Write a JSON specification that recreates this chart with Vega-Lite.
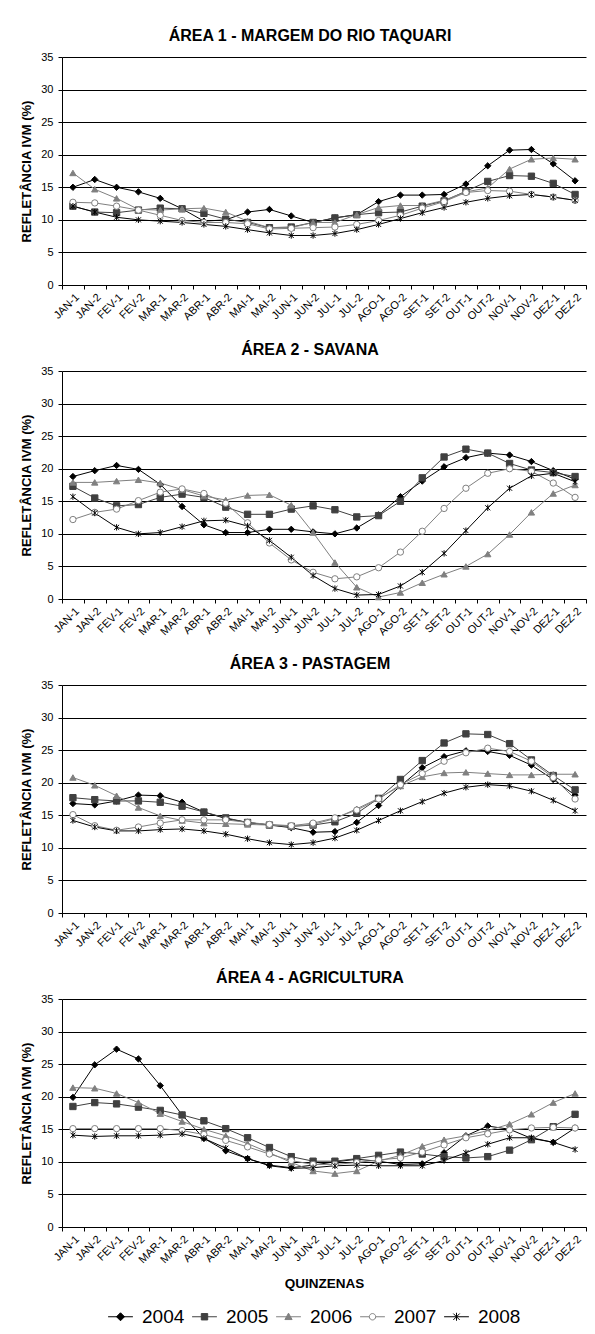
{
"$schema": "https://vega.github.io/schema/vega-lite/v6.json",
"background": "white",
"padding": {"left": 20, "top": 28, "right": 5, "bottom": 5},
"spacing": 19,
"datasets": {
"a1": [
{"q":"JAN-1","y":"2004","v":15.0},{"q":"JAN-2","y":"2004","v":16.2},{"q":"FEV-1","y":"2004","v":15.0},{"q":"FEV-2","y":"2004","v":14.3},{"q":"MAR-1","y":"2004","v":13.3},{"q":"MAR-2","y":"2004","v":11.7},{"q":"ABR-1","y":"2004","v":9.8},{"q":"ABR-2","y":"2004","v":10.0},{"q":"MAI-1","y":"2004","v":11.2},{"q":"MAI-2","y":"2004","v":11.6},{"q":"JUN-1","y":"2004","v":10.6},{"q":"JUN-2","y":"2004","v":9.6},{"q":"JUL-1","y":"2004","v":10.3},{"q":"JUL-2","y":"2004","v":10.8},{"q":"AGO-1","y":"2004","v":12.8},{"q":"AGO-2","y":"2004","v":13.8},{"q":"SET-1","y":"2004","v":13.8},{"q":"SET-2","y":"2004","v":13.9},{"q":"OUT-1","y":"2004","v":15.5},{"q":"OUT-2","y":"2004","v":18.3},{"q":"NOV-1","y":"2004","v":20.7},{"q":"NOV-2","y":"2004","v":20.8},{"q":"DEZ-1","y":"2004","v":18.6},{"q":"DEZ-2","y":"2004","v":16.0},
{"q":"JAN-1","y":"2005","v":12.1},{"q":"JAN-2","y":"2005","v":11.2},{"q":"FEV-1","y":"2005","v":11.1},{"q":"FEV-2","y":"2005","v":11.5},{"q":"MAR-1","y":"2005","v":11.8},{"q":"MAR-2","y":"2005","v":11.7},{"q":"ABR-1","y":"2005","v":11.0},{"q":"ABR-2","y":"2005","v":10.1},{"q":"MAI-1","y":"2005","v":9.6},{"q":"MAI-2","y":"2005","v":8.8},{"q":"JUN-1","y":"2005","v":8.9},{"q":"JUN-2","y":"2005","v":9.6},{"q":"JUL-1","y":"2005","v":10.3},{"q":"JUL-2","y":"2005","v":10.8},{"q":"AGO-1","y":"2005","v":11.1},{"q":"AGO-2","y":"2005","v":11.2},{"q":"SET-1","y":"2005","v":12.1},{"q":"SET-2","y":"2005","v":12.9},{"q":"OUT-1","y":"2005","v":14.4},{"q":"OUT-2","y":"2005","v":15.9},{"q":"NOV-1","y":"2005","v":16.8},{"q":"NOV-2","y":"2005","v":16.7},{"q":"DEZ-1","y":"2005","v":15.6},{"q":"DEZ-2","y":"2005","v":13.9},
{"q":"JAN-1","y":"2006","v":17.2},{"q":"JAN-2","y":"2006","v":14.7},{"q":"FEV-1","y":"2006","v":13.3},{"q":"FEV-2","y":"2006","v":11.6},{"q":"MAR-1","y":"2006","v":11.5},{"q":"MAR-2","y":"2006","v":11.7},{"q":"ABR-1","y":"2006","v":11.8},{"q":"ABR-2","y":"2006","v":11.2},{"q":"MAI-1","y":"2006","v":9.8},{"q":"MAI-2","y":"2006","v":8.8},{"q":"JUN-1","y":"2006","v":8.8},{"q":"JUN-2","y":"2006","v":9.6},{"q":"JUL-1","y":"2006","v":9.6},{"q":"JUL-2","y":"2006","v":10.8},{"q":"AGO-1","y":"2006","v":11.9},{"q":"AGO-2","y":"2006","v":12.2},{"q":"SET-1","y":"2006","v":12.2},{"q":"SET-2","y":"2006","v":13.0},{"q":"OUT-1","y":"2006","v":14.3},{"q":"OUT-2","y":"2006","v":14.9},{"q":"NOV-1","y":"2006","v":17.8},{"q":"NOV-2","y":"2006","v":19.3},{"q":"DEZ-1","y":"2006","v":19.5},{"q":"DEZ-2","y":"2006","v":19.3},
{"q":"JAN-1","y":"2007","v":12.7},{"q":"JAN-2","y":"2007","v":12.6},{"q":"FEV-1","y":"2007","v":12.1},{"q":"FEV-2","y":"2007","v":11.5},{"q":"MAR-1","y":"2007","v":10.7},{"q":"MAR-2","y":"2007","v":9.9},{"q":"ABR-1","y":"2007","v":9.6},{"q":"ABR-2","y":"2007","v":9.6},{"q":"MAI-1","y":"2007","v":9.4},{"q":"MAI-2","y":"2007","v":8.6},{"q":"JUN-1","y":"2007","v":8.7},{"q":"JUN-2","y":"2007","v":8.8},{"q":"JUL-1","y":"2007","v":8.9},{"q":"JUL-2","y":"2007","v":9.3},{"q":"AGO-1","y":"2007","v":9.9},{"q":"AGO-2","y":"2007","v":10.7},{"q":"SET-1","y":"2007","v":11.8},{"q":"SET-2","y":"2007","v":12.8},{"q":"OUT-1","y":"2007","v":14.2},{"q":"OUT-2","y":"2007","v":14.5},{"q":"NOV-1","y":"2007","v":14.4},{"q":"NOV-2","y":"2007","v":13.9},{"q":"DEZ-1","y":"2007","v":13.5},{"q":"DEZ-2","y":"2007","v":13.0},
{"q":"JAN-1","y":"2008","v":12.1},{"q":"JAN-2","y":"2008","v":11.2},{"q":"FEV-1","y":"2008","v":10.4},{"q":"FEV-2","y":"2008","v":10.0},{"q":"MAR-1","y":"2008","v":9.8},{"q":"MAR-2","y":"2008","v":9.6},{"q":"ABR-1","y":"2008","v":9.3},{"q":"ABR-2","y":"2008","v":9.0},{"q":"MAI-1","y":"2008","v":8.5},{"q":"MAI-2","y":"2008","v":8.0},{"q":"JUN-1","y":"2008","v":7.6},{"q":"JUN-2","y":"2008","v":7.6},{"q":"JUL-1","y":"2008","v":7.9},{"q":"JUL-2","y":"2008","v":8.5},{"q":"AGO-1","y":"2008","v":9.3},{"q":"AGO-2","y":"2008","v":10.2},{"q":"SET-1","y":"2008","v":11.1},{"q":"SET-2","y":"2008","v":11.9},{"q":"OUT-1","y":"2008","v":12.7},{"q":"OUT-2","y":"2008","v":13.3},{"q":"NOV-1","y":"2008","v":13.7},{"q":"NOV-2","y":"2008","v":13.9},{"q":"DEZ-1","y":"2008","v":13.5},{"q":"DEZ-2","y":"2008","v":13.0}
],
"a2": [
{"q":"JAN-1","y":"2004","v":18.8},{"q":"JAN-2","y":"2004","v":19.7},{"q":"FEV-1","y":"2004","v":20.5},{"q":"FEV-2","y":"2004","v":19.9},{"q":"MAR-1","y":"2004","v":17.6},{"q":"MAR-2","y":"2004","v":14.2},{"q":"ABR-1","y":"2004","v":11.4},{"q":"ABR-2","y":"2004","v":10.2},{"q":"MAI-1","y":"2004","v":10.2},{"q":"MAI-2","y":"2004","v":10.7},{"q":"JUN-1","y":"2004","v":10.7},{"q":"JUN-2","y":"2004","v":10.3},{"q":"JUL-1","y":"2004","v":10.0},{"q":"JUL-2","y":"2004","v":10.9},{"q":"AGO-1","y":"2004","v":12.9},{"q":"AGO-2","y":"2004","v":15.7},{"q":"SET-1","y":"2004","v":18.1},{"q":"SET-2","y":"2004","v":20.3},{"q":"OUT-1","y":"2004","v":21.7},{"q":"OUT-2","y":"2004","v":22.4},{"q":"NOV-1","y":"2004","v":22.1},{"q":"NOV-2","y":"2004","v":21.1},{"q":"DEZ-1","y":"2004","v":19.7},{"q":"DEZ-2","y":"2004","v":18.4},
{"q":"JAN-1","y":"2005","v":17.3},{"q":"JAN-2","y":"2005","v":15.5},{"q":"FEV-1","y":"2005","v":14.3},{"q":"FEV-2","y":"2005","v":14.5},{"q":"MAR-1","y":"2005","v":15.6},{"q":"MAR-2","y":"2005","v":16.1},{"q":"ABR-1","y":"2005","v":15.6},{"q":"ABR-2","y":"2005","v":14.1},{"q":"MAI-1","y":"2005","v":13.0},{"q":"MAI-2","y":"2005","v":13.0},{"q":"JUN-1","y":"2005","v":13.8},{"q":"JUN-2","y":"2005","v":14.3},{"q":"JUL-1","y":"2005","v":13.7},{"q":"JUL-2","y":"2005","v":12.6},{"q":"AGO-1","y":"2005","v":12.8},{"q":"AGO-2","y":"2005","v":15.0},{"q":"SET-1","y":"2005","v":18.6},{"q":"SET-2","y":"2005","v":21.8},{"q":"OUT-1","y":"2005","v":23.0},{"q":"OUT-2","y":"2005","v":22.4},{"q":"NOV-1","y":"2005","v":20.8},{"q":"NOV-2","y":"2005","v":19.8},{"q":"DEZ-1","y":"2005","v":19.4},{"q":"DEZ-2","y":"2005","v":18.8},
{"q":"JAN-1","y":"2006","v":17.9},{"q":"JAN-2","y":"2006","v":17.9},{"q":"FEV-1","y":"2006","v":18.1},{"q":"FEV-2","y":"2006","v":18.3},{"q":"MAR-1","y":"2006","v":17.8},{"q":"MAR-2","y":"2006","v":16.8},{"q":"ABR-1","y":"2006","v":15.8},{"q":"ABR-2","y":"2006","v":15.2},{"q":"MAI-1","y":"2006","v":15.9},{"q":"MAI-2","y":"2006","v":16.0},{"q":"JUN-1","y":"2006","v":14.4},{"q":"JUN-2","y":"2006","v":10.2},{"q":"JUL-1","y":"2006","v":5.6},{"q":"JUL-2","y":"2006","v":1.8},{"q":"AGO-1","y":"2006","v":0.3},{"q":"AGO-2","y":"2006","v":1.0},{"q":"SET-1","y":"2006","v":2.5},{"q":"SET-2","y":"2006","v":3.8},{"q":"OUT-1","y":"2006","v":5.0},{"q":"OUT-2","y":"2006","v":6.9},{"q":"NOV-1","y":"2006","v":9.9},{"q":"NOV-2","y":"2006","v":13.3},{"q":"DEZ-1","y":"2006","v":16.2},{"q":"DEZ-2","y":"2006","v":17.5},
{"q":"JAN-1","y":"2007","v":12.2},{"q":"JAN-2","y":"2007","v":13.3},{"q":"FEV-1","y":"2007","v":13.8},{"q":"FEV-2","y":"2007","v":15.1},{"q":"MAR-1","y":"2007","v":16.4},{"q":"MAR-2","y":"2007","v":16.9},{"q":"ABR-1","y":"2007","v":16.2},{"q":"ABR-2","y":"2007","v":14.7},{"q":"MAI-1","y":"2007","v":11.7},{"q":"MAI-2","y":"2007","v":8.6},{"q":"JUN-1","y":"2007","v":6.0},{"q":"JUN-2","y":"2007","v":4.1},{"q":"JUL-1","y":"2007","v":3.1},{"q":"JUL-2","y":"2007","v":3.4},{"q":"AGO-1","y":"2007","v":4.8},{"q":"AGO-2","y":"2007","v":7.2},{"q":"SET-1","y":"2007","v":10.4},{"q":"SET-2","y":"2007","v":13.9},{"q":"OUT-1","y":"2007","v":17.0},{"q":"OUT-2","y":"2007","v":19.3},{"q":"NOV-1","y":"2007","v":20.0},{"q":"NOV-2","y":"2007","v":19.6},{"q":"DEZ-1","y":"2007","v":17.8},{"q":"DEZ-2","y":"2007","v":15.6},
{"q":"JAN-1","y":"2008","v":15.7},{"q":"JAN-2","y":"2008","v":13.2},{"q":"FEV-1","y":"2008","v":11.0},{"q":"FEV-2","y":"2008","v":10.0},{"q":"MAR-1","y":"2008","v":10.2},{"q":"MAR-2","y":"2008","v":11.1},{"q":"ABR-1","y":"2008","v":12.0},{"q":"ABR-2","y":"2008","v":12.1},{"q":"MAI-1","y":"2008","v":11.2},{"q":"MAI-2","y":"2008","v":9.0},{"q":"JUN-1","y":"2008","v":6.4},{"q":"JUN-2","y":"2008","v":3.6},{"q":"JUL-1","y":"2008","v":1.6},{"q":"JUL-2","y":"2008","v":0.6},{"q":"AGO-1","y":"2008","v":0.7},{"q":"AGO-2","y":"2008","v":2.0},{"q":"SET-1","y":"2008","v":4.1},{"q":"SET-2","y":"2008","v":7.0},{"q":"OUT-1","y":"2008","v":10.5},{"q":"OUT-2","y":"2008","v":14.0},{"q":"NOV-1","y":"2008","v":17.0},{"q":"NOV-2","y":"2008","v":18.9},{"q":"DEZ-1","y":"2008","v":19.3},{"q":"DEZ-2","y":"2008","v":18.0}
],
"a3": [
{"q":"JAN-1","y":"2004","v":16.8},{"q":"JAN-2","y":"2004","v":16.6},{"q":"FEV-1","y":"2004","v":17.2},{"q":"FEV-2","y":"2004","v":18.1},{"q":"MAR-1","y":"2004","v":18.0},{"q":"MAR-2","y":"2004","v":17.0},{"q":"ABR-1","y":"2004","v":15.5},{"q":"ABR-2","y":"2004","v":14.5},{"q":"MAI-1","y":"2004","v":13.9},{"q":"MAI-2","y":"2004","v":13.5},{"q":"JUN-1","y":"2004","v":13.1},{"q":"JUN-2","y":"2004","v":12.4},{"q":"JUL-1","y":"2004","v":12.5},{"q":"JUL-2","y":"2004","v":13.9},{"q":"AGO-1","y":"2004","v":16.5},{"q":"AGO-2","y":"2004","v":19.5},{"q":"SET-1","y":"2004","v":22.3},{"q":"SET-2","y":"2004","v":24.0},{"q":"OUT-1","y":"2004","v":24.9},{"q":"OUT-2","y":"2004","v":24.8},{"q":"NOV-1","y":"2004","v":24.2},{"q":"NOV-2","y":"2004","v":22.7},{"q":"DEZ-1","y":"2004","v":20.5},{"q":"DEZ-2","y":"2004","v":18.1},
{"q":"JAN-1","y":"2005","v":17.7},{"q":"JAN-2","y":"2005","v":17.4},{"q":"FEV-1","y":"2005","v":17.2},{"q":"FEV-2","y":"2005","v":17.2},{"q":"MAR-1","y":"2005","v":17.0},{"q":"MAR-2","y":"2005","v":16.4},{"q":"ABR-1","y":"2005","v":15.5},{"q":"ABR-2","y":"2005","v":14.6},{"q":"MAI-1","y":"2005","v":13.9},{"q":"MAI-2","y":"2005","v":13.5},{"q":"JUN-1","y":"2005","v":13.3},{"q":"JUN-2","y":"2005","v":13.5},{"q":"JUL-1","y":"2005","v":14.0},{"q":"JUL-2","y":"2005","v":15.3},{"q":"AGO-1","y":"2005","v":17.6},{"q":"AGO-2","y":"2005","v":20.5},{"q":"SET-1","y":"2005","v":23.4},{"q":"SET-2","y":"2005","v":26.1},{"q":"OUT-1","y":"2005","v":27.5},{"q":"OUT-2","y":"2005","v":27.4},{"q":"NOV-1","y":"2005","v":26.0},{"q":"NOV-2","y":"2005","v":23.5},{"q":"DEZ-1","y":"2005","v":21.1},{"q":"DEZ-2","y":"2005","v":18.9},
{"q":"JAN-1","y":"2006","v":20.8},{"q":"JAN-2","y":"2006","v":19.6},{"q":"FEV-1","y":"2006","v":18.0},{"q":"FEV-2","y":"2006","v":16.2},{"q":"MAR-1","y":"2006","v":14.9},{"q":"MAR-2","y":"2006","v":14.2},{"q":"ABR-1","y":"2006","v":13.8},{"q":"ABR-2","y":"2006","v":13.7},{"q":"MAI-1","y":"2006","v":13.6},{"q":"MAI-2","y":"2006","v":13.5},{"q":"JUN-1","y":"2006","v":13.3},{"q":"JUN-2","y":"2006","v":13.6},{"q":"JUL-1","y":"2006","v":14.5},{"q":"JUL-2","y":"2006","v":16.0},{"q":"AGO-1","y":"2006","v":17.6},{"q":"AGO-2","y":"2006","v":19.5},{"q":"SET-1","y":"2006","v":20.9},{"q":"SET-2","y":"2006","v":21.5},{"q":"OUT-1","y":"2006","v":21.6},{"q":"OUT-2","y":"2006","v":21.4},{"q":"NOV-1","y":"2006","v":21.2},{"q":"NOV-2","y":"2006","v":21.2},{"q":"DEZ-1","y":"2006","v":21.3},{"q":"DEZ-2","y":"2006","v":21.3},
{"q":"JAN-1","y":"2007","v":15.1},{"q":"JAN-2","y":"2007","v":13.4},{"q":"FEV-1","y":"2007","v":12.7},{"q":"FEV-2","y":"2007","v":13.2},{"q":"MAR-1","y":"2007","v":13.8},{"q":"MAR-2","y":"2007","v":14.3},{"q":"ABR-1","y":"2007","v":14.3},{"q":"ABR-2","y":"2007","v":14.3},{"q":"MAI-1","y":"2007","v":13.9},{"q":"MAI-2","y":"2007","v":13.6},{"q":"JUN-1","y":"2007","v":13.4},{"q":"JUN-2","y":"2007","v":13.8},{"q":"JUL-1","y":"2007","v":14.6},{"q":"JUL-2","y":"2007","v":15.8},{"q":"AGO-1","y":"2007","v":17.5},{"q":"AGO-2","y":"2007","v":19.7},{"q":"SET-1","y":"2007","v":21.4},{"q":"SET-2","y":"2007","v":23.3},{"q":"OUT-1","y":"2007","v":24.6},{"q":"OUT-2","y":"2007","v":25.3},{"q":"NOV-1","y":"2007","v":24.8},{"q":"NOV-2","y":"2007","v":23.3},{"q":"DEZ-1","y":"2007","v":20.8},{"q":"DEZ-2","y":"2007","v":17.5},
{"q":"JAN-1","y":"2008","v":14.2},{"q":"JAN-2","y":"2008","v":13.2},{"q":"FEV-1","y":"2008","v":12.6},{"q":"FEV-2","y":"2008","v":12.6},{"q":"MAR-1","y":"2008","v":12.8},{"q":"MAR-2","y":"2008","v":12.9},{"q":"ABR-1","y":"2008","v":12.6},{"q":"ABR-2","y":"2008","v":12.1},{"q":"MAI-1","y":"2008","v":11.4},{"q":"MAI-2","y":"2008","v":10.8},{"q":"JUN-1","y":"2008","v":10.5},{"q":"JUN-2","y":"2008","v":10.8},{"q":"JUL-1","y":"2008","v":11.5},{"q":"JUL-2","y":"2008","v":12.7},{"q":"AGO-1","y":"2008","v":14.2},{"q":"AGO-2","y":"2008","v":15.7},{"q":"SET-1","y":"2008","v":17.1},{"q":"SET-2","y":"2008","v":18.4},{"q":"OUT-1","y":"2008","v":19.3},{"q":"OUT-2","y":"2008","v":19.7},{"q":"NOV-1","y":"2008","v":19.5},{"q":"NOV-2","y":"2008","v":18.7},{"q":"DEZ-1","y":"2008","v":17.3},{"q":"DEZ-2","y":"2008","v":15.7}
],
"a4": [
{"q":"JAN-1","y":"2004","v":19.9},{"q":"JAN-2","y":"2004","v":24.9},{"q":"FEV-1","y":"2004","v":27.3},{"q":"FEV-2","y":"2004","v":25.8},{"q":"MAR-1","y":"2004","v":21.7},{"q":"MAR-2","y":"2004","v":17.2},{"q":"ABR-1","y":"2004","v":13.6},{"q":"ABR-2","y":"2004","v":11.7},{"q":"MAI-1","y":"2004","v":10.5},{"q":"MAI-2","y":"2004","v":9.5},{"q":"JUN-1","y":"2004","v":9.1},{"q":"JUN-2","y":"2004","v":9.5},{"q":"JUL-1","y":"2004","v":10.0},{"q":"JUL-2","y":"2004","v":10.4},{"q":"AGO-1","y":"2004","v":10.1},{"q":"AGO-2","y":"2004","v":9.6},{"q":"SET-1","y":"2004","v":9.7},{"q":"SET-2","y":"2004","v":11.4},{"q":"OUT-1","y":"2004","v":14.0},{"q":"OUT-2","y":"2004","v":15.5},{"q":"NOV-1","y":"2004","v":15.0},{"q":"NOV-2","y":"2004","v":13.6},{"q":"DEZ-1","y":"2004","v":13.0},{"q":"DEZ-2","y":"2004","v":15.2},
{"q":"JAN-1","y":"2005","v":18.5},{"q":"JAN-2","y":"2005","v":19.1},{"q":"FEV-1","y":"2005","v":18.9},{"q":"FEV-2","y":"2005","v":18.4},{"q":"MAR-1","y":"2005","v":17.9},{"q":"MAR-2","y":"2005","v":17.2},{"q":"ABR-1","y":"2005","v":16.3},{"q":"ABR-2","y":"2005","v":15.1},{"q":"MAI-1","y":"2005","v":13.7},{"q":"MAI-2","y":"2005","v":12.2},{"q":"JUN-1","y":"2005","v":10.8},{"q":"JUN-2","y":"2005","v":10.1},{"q":"JUL-1","y":"2005","v":10.1},{"q":"JUL-2","y":"2005","v":10.5},{"q":"AGO-1","y":"2005","v":11.0},{"q":"AGO-2","y":"2005","v":11.5},{"q":"SET-1","y":"2005","v":11.2},{"q":"SET-2","y":"2005","v":10.8},{"q":"OUT-1","y":"2005","v":10.6},{"q":"OUT-2","y":"2005","v":10.8},{"q":"NOV-1","y":"2005","v":11.8},{"q":"NOV-2","y":"2005","v":13.4},{"q":"DEZ-1","y":"2005","v":15.4},{"q":"DEZ-2","y":"2005","v":17.3},
{"q":"JAN-1","y":"2006","v":21.4},{"q":"JAN-2","y":"2006","v":21.3},{"q":"FEV-1","y":"2006","v":20.5},{"q":"FEV-2","y":"2006","v":19.1},{"q":"MAR-1","y":"2006","v":17.4},{"q":"MAR-2","y":"2006","v":16.2},{"q":"ABR-1","y":"2006","v":15.0},{"q":"ABR-2","y":"2006","v":14.0},{"q":"MAI-1","y":"2006","v":12.8},{"q":"MAI-2","y":"2006","v":11.4},{"q":"JUN-1","y":"2006","v":9.9},{"q":"JUN-2","y":"2006","v":8.6},{"q":"JUL-1","y":"2006","v":8.2},{"q":"JUL-2","y":"2006","v":8.6},{"q":"AGO-1","y":"2006","v":10.1},{"q":"AGO-2","y":"2006","v":11.0},{"q":"SET-1","y":"2006","v":12.4},{"q":"SET-2","y":"2006","v":13.4},{"q":"OUT-1","y":"2006","v":14.0},{"q":"OUT-2","y":"2006","v":14.8},{"q":"NOV-1","y":"2006","v":15.8},{"q":"NOV-2","y":"2006","v":17.3},{"q":"DEZ-1","y":"2006","v":19.1},{"q":"DEZ-2","y":"2006","v":20.5},
{"q":"JAN-1","y":"2007","v":15.1},{"q":"JAN-2","y":"2007","v":15.1},{"q":"FEV-1","y":"2007","v":15.1},{"q":"FEV-2","y":"2007","v":15.1},{"q":"MAR-1","y":"2007","v":15.1},{"q":"MAR-2","y":"2007","v":14.8},{"q":"ABR-1","y":"2007","v":14.2},{"q":"ABR-2","y":"2007","v":13.3},{"q":"MAI-1","y":"2007","v":12.3},{"q":"MAI-2","y":"2007","v":11.2},{"q":"JUN-1","y":"2007","v":10.2},{"q":"JUN-2","y":"2007","v":9.6},{"q":"JUL-1","y":"2007","v":9.6},{"q":"JUL-2","y":"2007","v":9.9},{"q":"AGO-1","y":"2007","v":10.3},{"q":"AGO-2","y":"2007","v":10.6},{"q":"SET-1","y":"2007","v":11.5},{"q":"SET-2","y":"2007","v":12.6},{"q":"OUT-1","y":"2007","v":13.7},{"q":"OUT-2","y":"2007","v":14.3},{"q":"NOV-1","y":"2007","v":14.9},{"q":"NOV-2","y":"2007","v":15.2},{"q":"DEZ-1","y":"2007","v":15.3},{"q":"DEZ-2","y":"2007","v":15.2},
{"q":"JAN-1","y":"2008","v":14.1},{"q":"JAN-2","y":"2008","v":13.9},{"q":"FEV-1","y":"2008","v":14.0},{"q":"FEV-2","y":"2008","v":14.0},{"q":"MAR-1","y":"2008","v":14.1},{"q":"MAR-2","y":"2008","v":14.3},{"q":"ABR-1","y":"2008","v":13.6},{"q":"ABR-2","y":"2008","v":12.1},{"q":"MAI-1","y":"2008","v":10.5},{"q":"MAI-2","y":"2008","v":9.4},{"q":"JUN-1","y":"2008","v":9.0},{"q":"JUN-2","y":"2008","v":9.1},{"q":"JUL-1","y":"2008","v":9.4},{"q":"JUL-2","y":"2008","v":9.5},{"q":"AGO-1","y":"2008","v":9.4},{"q":"AGO-2","y":"2008","v":9.4},{"q":"SET-1","y":"2008","v":9.4},{"q":"SET-2","y":"2008","v":10.2},{"q":"OUT-1","y":"2008","v":11.4},{"q":"OUT-2","y":"2008","v":12.7},{"q":"NOV-1","y":"2008","v":13.7},{"q":"NOV-2","y":"2008","v":13.7},{"q":"DEZ-1","y":"2008","v":13.0},{"q":"DEZ-2","y":"2008","v":11.9}
]
},
"resolve": {"scale": {"shape": "independent", "fill": "independent", "stroke": "independent"}},
"vconcat": [
{
"width": 524, "height": 228,
"data": {"name": "a1"},
"title": {"text": "ÁREA 1 - MARGEM DO RIO TAQUARI"},
"encoding": {
"x": {"field": "q", "type": "ordinal", "sort": ["JAN-1","JAN-2","FEV-1","FEV-2","MAR-1","MAR-2","ABR-1","ABR-2","MAI-1","MAI-2","JUN-1","JUN-2","JUL-1","JUL-2","AGO-1","AGO-2","SET-1","SET-2","OUT-1","OUT-2","NOV-1","NOV-2","DEZ-1","DEZ-2"], "scale": {"type": "band", "paddingInner": 0, "paddingOuter": 0}, "axis": {"title": null}},
"y": {"field": "v", "type": "quantitative", "scale": {"domain": [0, 35], "nice": false}, "axis": {"title": "REFLETÂNCIA IVM (%)"}}
},
"layer": [
{"mark": {"type": "line", "strokeWidth": 1}, "encoding": {"stroke": {"field": "y", "type": "nominal", "scale": {"domain": ["2004","2005","2006","2007","2008"], "range": ["#000000","#404040","#808080","#808080","#000000"]}, "legend": null}}},
{"mark": {"type": "point", "filled": true, "size": 40, "strokeWidth": 1, "opacity": 1}, "encoding": {
"shape": {"field": "y", "type": "nominal", "scale": {"domain": ["2004","2005","2006","2007","2008"], "range": ["diamond","square","triangle-up","circle","M-0.8,-0.8L0.8,0.8M-0.8,0.8L0.8,-0.8M0,-1V1"]}, "legend": null},
"fill": {"field": "y", "type": "nominal", "scale": {"domain": ["2004","2005","2006","2007","2008"], "range": ["#000000","#404040","#808080","#ffffff","transparent"]}, "legend": null},
"stroke": {"field": "y", "type": "nominal", "scale": {"domain": ["2004","2005","2006","2007","2008"], "range": ["#000000","#404040","#808080","#808080","#000000"]}, "legend": null}}}
]
},
{
"width": 524, "height": 228,
"data": {"name": "a2"},
"title": {"text": "ÁREA 2 - SAVANA"},
"encoding": {
"x": {"field": "q", "type": "ordinal", "sort": ["JAN-1","JAN-2","FEV-1","FEV-2","MAR-1","MAR-2","ABR-1","ABR-2","MAI-1","MAI-2","JUN-1","JUN-2","JUL-1","JUL-2","AGO-1","AGO-2","SET-1","SET-2","OUT-1","OUT-2","NOV-1","NOV-2","DEZ-1","DEZ-2"], "scale": {"type": "band", "paddingInner": 0, "paddingOuter": 0}, "axis": {"title": null}},
"y": {"field": "v", "type": "quantitative", "scale": {"domain": [0, 35], "nice": false}, "axis": {"title": "REFLETÂNCIA IVM (%)"}}
},
"layer": [
{"mark": {"type": "line", "strokeWidth": 1}, "encoding": {"stroke": {"field": "y", "type": "nominal", "scale": {"domain": ["2004","2005","2006","2007","2008"], "range": ["#000000","#404040","#808080","#808080","#000000"]}, "legend": null}}},
{"mark": {"type": "point", "filled": true, "size": 40, "strokeWidth": 1, "opacity": 1}, "encoding": {
"shape": {"field": "y", "type": "nominal", "scale": {"domain": ["2004","2005","2006","2007","2008"], "range": ["diamond","square","triangle-up","circle","M-0.8,-0.8L0.8,0.8M-0.8,0.8L0.8,-0.8M0,-1V1"]}, "legend": null},
"fill": {"field": "y", "type": "nominal", "scale": {"domain": ["2004","2005","2006","2007","2008"], "range": ["#000000","#404040","#808080","#ffffff","transparent"]}, "legend": null},
"stroke": {"field": "y", "type": "nominal", "scale": {"domain": ["2004","2005","2006","2007","2008"], "range": ["#000000","#404040","#808080","#808080","#000000"]}, "legend": null}}}
]
},
{
"width": 524, "height": 228,
"data": {"name": "a3"},
"title": {"text": "ÁREA 3 - PASTAGEM"},
"encoding": {
"x": {"field": "q", "type": "ordinal", "sort": ["JAN-1","JAN-2","FEV-1","FEV-2","MAR-1","MAR-2","ABR-1","ABR-2","MAI-1","MAI-2","JUN-1","JUN-2","JUL-1","JUL-2","AGO-1","AGO-2","SET-1","SET-2","OUT-1","OUT-2","NOV-1","NOV-2","DEZ-1","DEZ-2"], "scale": {"type": "band", "paddingInner": 0, "paddingOuter": 0}, "axis": {"title": null}},
"y": {"field": "v", "type": "quantitative", "scale": {"domain": [0, 35], "nice": false}, "axis": {"title": "REFLETÂNCIA IVM (%)"}}
},
"layer": [
{"mark": {"type": "line", "strokeWidth": 1}, "encoding": {"stroke": {"field": "y", "type": "nominal", "scale": {"domain": ["2004","2005","2006","2007","2008"], "range": ["#000000","#404040","#808080","#808080","#000000"]}, "legend": null}}},
{"mark": {"type": "point", "filled": true, "size": 40, "strokeWidth": 1, "opacity": 1}, "encoding": {
"shape": {"field": "y", "type": "nominal", "scale": {"domain": ["2004","2005","2006","2007","2008"], "range": ["diamond","square","triangle-up","circle","M-0.8,-0.8L0.8,0.8M-0.8,0.8L0.8,-0.8M0,-1V1"]}, "legend": null},
"fill": {"field": "y", "type": "nominal", "scale": {"domain": ["2004","2005","2006","2007","2008"], "range": ["#000000","#404040","#808080","#ffffff","transparent"]}, "legend": null},
"stroke": {"field": "y", "type": "nominal", "scale": {"domain": ["2004","2005","2006","2007","2008"], "range": ["#000000","#404040","#808080","#808080","#000000"]}, "legend": null}}}
]
},
{
"width": 524, "height": 228,
"data": {"name": "a4"},
"title": {"text": "ÁREA 4 - AGRICULTURA"},
"encoding": {
"x": {"field": "q", "type": "ordinal", "sort": ["JAN-1","JAN-2","FEV-1","FEV-2","MAR-1","MAR-2","ABR-1","ABR-2","MAI-1","MAI-2","JUN-1","JUN-2","JUL-1","JUL-2","AGO-1","AGO-2","SET-1","SET-2","OUT-1","OUT-2","NOV-1","NOV-2","DEZ-1","DEZ-2"], "scale": {"type": "band", "paddingInner": 0, "paddingOuter": 0}, "axis": {"title": "QUINZENAS", "titleFontWeight": "bold", "titleFontSize": 13.5, "titlePadding": 12}},
"y": {"field": "v", "type": "quantitative", "scale": {"domain": [0, 35], "nice": false}, "axis": {"title": "REFLETÂNCIA IVM (%)"}}
},
"layer": [
{"mark": {"type": "line", "strokeWidth": 1}, "encoding": {"stroke": {"field": "y", "type": "nominal", "scale": {"domain": ["2004","2005","2006","2007","2008"], "range": ["#000000","#404040","#808080","#808080","#000000"]}, "legend": null}}},
{"mark": {"type": "point", "filled": true, "size": 40, "strokeWidth": 1, "opacity": 1}, "encoding": {
"shape": {"field": "y", "type": "nominal", "scale": {"domain": ["2004","2005","2006","2007","2008"], "range": ["diamond","square","triangle-up","circle","M-0.8,-0.8L0.8,0.8M-0.8,0.8L0.8,-0.8M0,-1V1"]}, "legend": null},
"fill": {"field": "y", "type": "nominal", "scale": {"domain": ["2004","2005","2006","2007","2008"], "range": ["#000000","#404040","#808080","#ffffff","transparent"]}, "legend": null},
"stroke": {"field": "y", "type": "nominal", "scale": {"domain": ["2004","2005","2006","2007","2008"], "range": ["#000000","#404040","#808080","#808080","#000000"]}, "legend": null}}},
{"transform": [{"filter": "false"}], "mark": {"type": "point", "filled": true, "size": 64, "strokeWidth": 1, "opacity": 1}, "encoding": {
"shape": {"field": "y", "type": "nominal", "scale": {"domain": ["2004","2005","2006","2007","2008"], "range": ["M-3.1,0H3.1M-1,0L0,-1L1,0L0,1Z","M-3.1,0H3.1M-0.8,-0.8H0.8V0.8H-0.8Z","M-3.1,0H3.1M0,-0.9L0.9,0.7H-0.9Z","M-3.1,0H-0.8M0.8,0H3.1M0.8,0A0.8,0.8,0,1,1,-0.8,0A0.8,0.8,0,1,1,0.8,0Z","M-3.1,0H3.1M-0.8,-0.8L0.8,0.8M-0.8,0.8L0.8,-0.8M0,-1V1"]}, "legend": {"title": null, "orient": "none", "legendX": 49, "legendY": 308}},
"fill": {"field": "y", "type": "nominal", "scale": {"domain": ["2004","2005","2006","2007","2008"], "range": ["#000000","#404040","#808080","#ffffff","transparent"]}, "legend": {"title": null, "orient": "none", "legendX": 49, "legendY": 308}},
"stroke": {"field": "y", "type": "nominal", "scale": {"domain": ["2004","2005","2006","2007","2008"], "range": ["#000000","#404040","#808080","#808080","#000000"]}, "legend": {"title": null, "orient": "none", "legendX": 49, "legendY": 308}}}}
],
"resolve": {"scale": {"shape": "independent", "fill": "independent", "stroke": "independent"}}
}
],
"config": {
"font": "Liberation Sans",
"view": {"stroke": null},
"title": {"font": "Liberation Sans", "fontSize": 16, "fontWeight": "bold", "color": "#000", "anchor": "middle", "offset": 7, "dx": -14},
"axis": {"labelFont": "Liberation Sans", "titleFont": "Liberation Sans", "labelColor": "#000", "titleColor": "#000", "domainColor": "#000", "tickColor": "#000", "tickSize": 4, "domainWidth": 1, "tickWidth": 1},
"axisX": {"labelAngle": -45, "labelFontSize": 11, "tickBand": "extent", "grid": false, "labelPadding": 2},
"axisY": {"values": [0,5,10,15,20,25,30,35], "grid": true, "gridColor": "#000", "gridWidth": 1, "labelFontSize": 11, "labelPadding": 5, "titleFontSize": 13, "titleFontWeight": "bold", "titlePadding": 7},
"legend": {"direction": "horizontal", "labelFont": "Liberation Sans", "labelFontSize": 19, "labelColor": "#000", "symbolSize": 64, "symbolStrokeWidth": 1, "labelOffset": 12, "columnPadding": 5}
}
}
